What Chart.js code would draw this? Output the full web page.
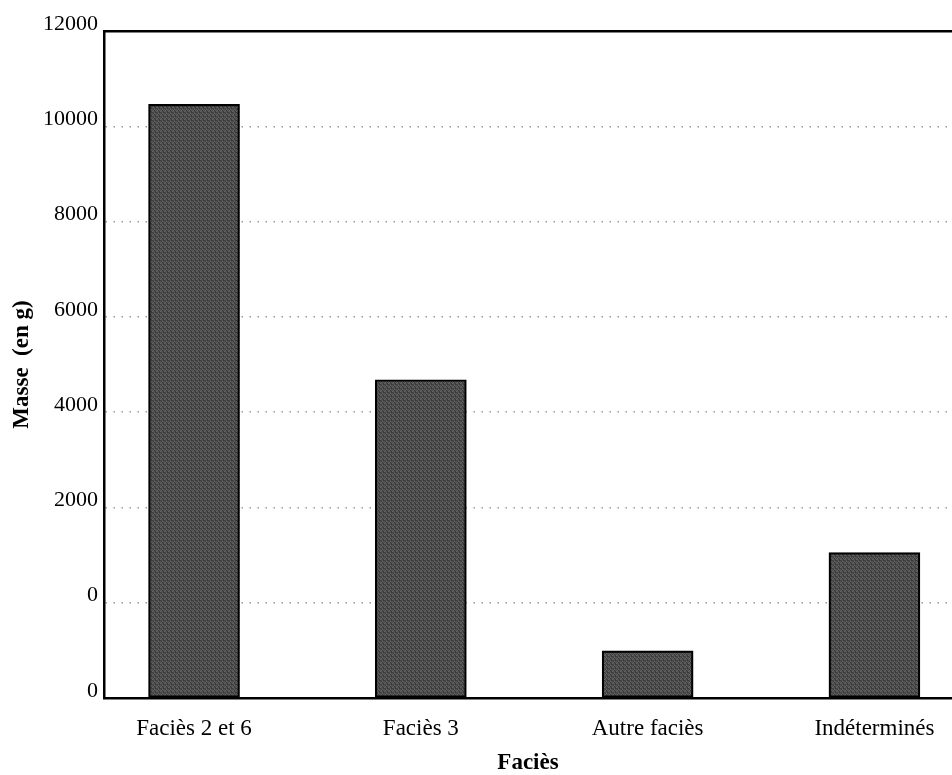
<!DOCTYPE html>
<html>
<head>
<meta charset="utf-8">
<script src="https://cdn.jsdelivr.net/npm/chart.js@4.4.1/dist/chart.umd.min.js"></script>
<style>
  html, body { margin: 0; padding: 0; background: #fff; }
  #wrap { position: relative; width: 952px; height: 775px; }
</style>
</head>
<body>
<div id="wrap"><canvas id="c"></canvas></div>
<script>
// ---- data ----
const categories = ['Faciès 2 et 6', 'Faciès 3', 'Autre faciès', 'Indéterminés'];
const masses = [12460, 6680, 990, 3050];
const yTickLabels = ['0', '0', '2000', '4000', '6000', '8000', '10000', '12000'];
const xTitle = 'Faciès';
const yTitle = 'Masse  (en g)';

const FONT = "'Liberation Serif', 'Times New Roman', serif";

// fixed speckle texture for the bars (style only)
function makeTexture() {
  const map = [
    '0120','2031','1302','3210'
  ];
  const shades = ['#3a3a3a', '#4a4a4a', '#575757', '#656565'];
  const cv = document.createElement('canvas');
  cv.width = 4; cv.height = 4;
  const g = cv.getContext('2d');
  for (let r = 0; r < 4; r++) for (let c = 0; c < 4; c++) {
    g.fillStyle = shades[+map[r][c]];
    g.fillRect(c, r, 1, 1);
  }
  return g.createPattern(cv, 'repeat');
}

new Chart(document.getElementById('c'), {
  type: 'bar',
  data: {
    datasets: [{
      data: masses.map((v, i) => ({ x: i, y: v })),
      backgroundColor: makeTexture(),
      borderColor: '#000',
      borderWidth: 2.2,
      borderSkipped: false,
      barThickness: 91
    }]
  },
  options: {
    responsive: true,
    maintainAspectRatio: false,
    animation: false,
    layout: { padding: { top: 31, right: 0, bottom: 0, left: 0 } },
    plugins: { legend: { display: false }, tooltip: { enabled: false } },
    scales: {
      x: {
        type: 'linear',
        position: 'bottom',
        offset: false,
        min: -0.397,
        max: 3.342,
        afterBuildTicks: (s) => { s.ticks = categories.map((c, i) => ({ value: i })); },
        afterFit: (s) => { s.height = 77; },
        grid: { display: false, drawTicks: false },
        border: { display: true, color: '#000', width: 2.5 },
        ticks: {
          padding: 17,
          color: '#000',
          font: { family: FONT, size: 23 },
          callback: (v) => categories[v] ?? ''
        },
        title: {
          display: true,
          text: xTitle,
          color: '#000',
          font: { family: FONT, size: 23, weight: 'bold', lineHeight: 1 },
          padding: { top: 0, bottom: 0 }
        }
      },
      xTop: {
        type: 'linear',
        position: 'top',
        min: 0, max: 1,
        afterFit: (s) => { s.height = 0; },
        grid: { display: false, drawTicks: false },
        ticks: { display: false },
        border: { display: true, color: '#000', width: 2.5 }
      },
      y: {
        type: 'linear',
        min: 0,
        max: 14000,
        afterFit: (s) => { s.width = 104; },
        grid: {
          drawTicks: false,
          color: (ctx) => (ctx.tick && (ctx.tick.value === 0 || ctx.tick.value === 14000)) ? 'rgba(0,0,0,0)' : '#9a9a9a',
          lineWidth: 1.5
        },
        border: { display: true, color: '#000', width: 2.5, dash: [1.5, 6.5] },
        ticks: {
          stepSize: 2000,
          padding: 6,
          labelOffset: -7,
          color: '#000',
          font: { family: FONT, size: 22 },
          callback: (v) => yTickLabels[Math.round(v / 2000)]
        },
        title: {
          display: true,
          text: yTitle,
          color: '#000',
          font: { family: FONT, size: 23, weight: 'bold', lineHeight: 1.2 },
          padding: { top: 8, bottom: 0 }
        }
      }
    }
  }
});
</script>
</body>
</html>
